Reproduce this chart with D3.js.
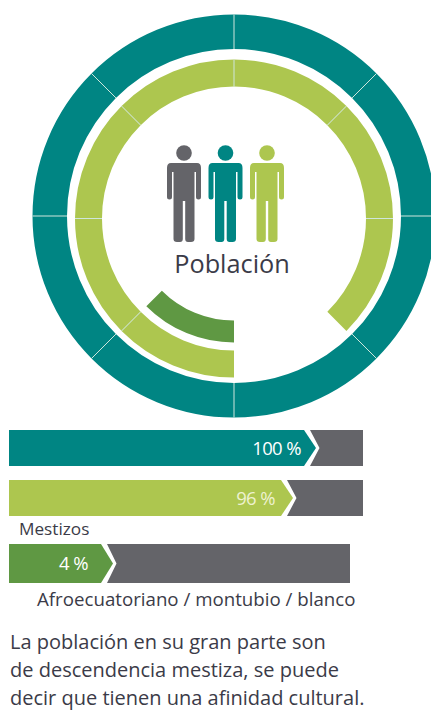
<!DOCTYPE html>
<html><head><meta charset="utf-8">
<script src="https://cdn.jsdelivr.net/npm/d3@7"></script>
<style>html,body{margin:0;padding:0;background:#fff;overflow:hidden}svg{display:block}text{font-family:"Open Sans",sans-serif}</style>
</head><body><svg id="c" width="431" height="711"></svg>
<script>
// --- data ---
const ringSegments = 8;              // each ring is divided into eighths
const ringNames = ["Total","Mestizos","Otros"];
const ringFilled = [8, 7, 1];        // filled eighths
const barLabels = ["100 %","96 %","4 %"];
const barValues = [100, 96, 4];
const barCaptions = ["", "Mestizos", "Afroecuatoriano / montubio / blanco"];
const title = "Población";
const note = ["La población en su gran parte son","de descendencia mestiza, se puede","decir que tienen una afinidad cultural."];
const colors = {teal:"#008583", lime:"#adc64f", green:"#5f9843", gray:"#646469", ink:"#3b3b48", rule:"#cfe6dc"};

const svg = d3.select("#c");
const tau = 2*Math.PI;
const angle = d3.scaleLinear().domain([0, ringSegments]).range([0, tau]);
const ringGeom = [
  {cx:234, cy:216,   r0:167, r1:201.5, fill:colors.teal, start:0},
  {cx:234, cy:218.5, r0:132, r1:159,   fill:colors.lime, start:ringSegments/2},
  {cx:234, cy:218.5, r0:102, r1:124,   fill:colors.green, start:ringSegments/2}
];
ringGeom.forEach((g,i)=>{
  const gr = svg.append("g").attr("transform",`translate(${g.cx},${g.cy})`);
  const segs = d3.range(ringFilled[i]);
  const arc = d3.arc().innerRadius(g.r0).outerRadius(g.r1);
  gr.selectAll("path").data(segs).join("path")
    .attr("d",k=>arc({startAngle:angle(g.start+k),endAngle:angle(g.start+k+1)}))
    .attr("fill",g.fill);
  const seps = i===2 ? [] : (ringFilled[i]===ringSegments ? d3.range(ringSegments) : d3.range(1,ringFilled[i]));
  gr.selectAll("line").data(seps).join("line")
    .attr("x1",k=>g.r0*Math.sin(angle(g.start+k)))
    .attr("y1",k=>-g.r0*Math.cos(angle(g.start+k)))
    .attr("x2",k=>g.r1*Math.sin(angle(g.start+k)))
    .attr("y2",k=>-g.r1*Math.cos(angle(g.start+k)))
    .attr("stroke",colors.rule).attr("stroke-width",1);
});

// people icons
const personX = d3.scalePoint().domain([colors.gray,colors.teal,colors.lime]).range([184,267]);
const person = svg.selectAll("g.person").data(personX.domain()).join("g")
  .attr("class","person").attr("transform",c=>`translate(${personX(c)},0)`);
person.append("circle").attr("cy",153).attr("r",7.8).attr("fill",c=>c);
person.append("path").attr("fill",c=>c).attr("d",
 "M-13,163 H13 Q17,163 17,168 V197 Q17,199.5 14.5,199.5 Q12,199.5 12,197 V172 H10.5 V239 Q10.5,242 7,242 H4 Q1.2,242 1.2,239 V201 H-1.2 V239 Q-1.2,242 -4,242 H-7 Q-10.5,242 -10.5,239 V172 H-12 V197 Q-12,199.5 -14.5,199.5 Q-17,199.5 -17,197 V168 Q-17,163 -13,163 Z");

svg.append("text").attr("x",232).attr("y",273).attr("text-anchor","middle")
  .attr("font-size",25.3).attr("fill",colors.ink).text(title);

// chevron bars
const barX = d3.scaleLinear().domain([0,4,96,100]).range([9,113,293,316]);
const bandY = d3.scaleOrdinal().domain(barValues).range([[430,466],[480,516],[544,583]]);
const trackEnd = d3.scaleOrdinal().domain(barValues).range([363,363,350]);
const barFill = d3.scaleOrdinal().domain(barValues).range([colors.teal,colors.lime,colors.green]);
const labelEnd = d3.scaleOrdinal().domain(barValues).range([301,275,88]);
const labelFill = d3.scaleOrdinal().domain(barValues).range(["#fff","#eef2cf","#fff"]);
const bars = svg.selectAll("g.bar").data(barValues).join("g").attr("class","bar");
bars.append("path").attr("fill",colors.gray).attr("d",v=>{
  const [a,b]=bandY(v), t=barX(v), m=(a+b)/2, e=trackEnd(v);
  return `M${t-6},${a}H${e}V${b}H${t-6}L${t+3.5},${m}Z`;
});
bars.append("path").attr("fill",v=>barFill(v)).attr("d",v=>{
  const [a,b]=bandY(v), t=barX(v), m=(a+b)/2, x0=barX(0);
  return `M${x0},${a}H${t-12}L${t},${m}L${t-12},${b}H${x0}Z`;
});
bars.append("text").attr("x",v=>labelEnd(v)).attr("y",v=>(bandY(v)[0]+bandY(v)[1])/2+6.5)
  .attr("text-anchor","end").attr("font-size",18.5).attr("letter-spacing",-0.6).attr("fill",v=>labelFill(v))
  .text((v,i)=>barLabels[i]);

svg.append("text").attr("x",19).attr("y",535).attr("font-size",17.2).attr("fill",colors.ink).text(barCaptions[1]);
svg.append("text").attr("x",37).attr("y",606).attr("font-size",18.7).attr("fill",colors.ink).text(barCaptions[2]);

svg.selectAll("text.note").data(note).join("text").attr("class","note")
  .attr("x",10).attr("y",(d,i)=>649+i*28).attr("font-size",20).attr("fill",colors.ink).text(d=>d);
</script></body></html>
